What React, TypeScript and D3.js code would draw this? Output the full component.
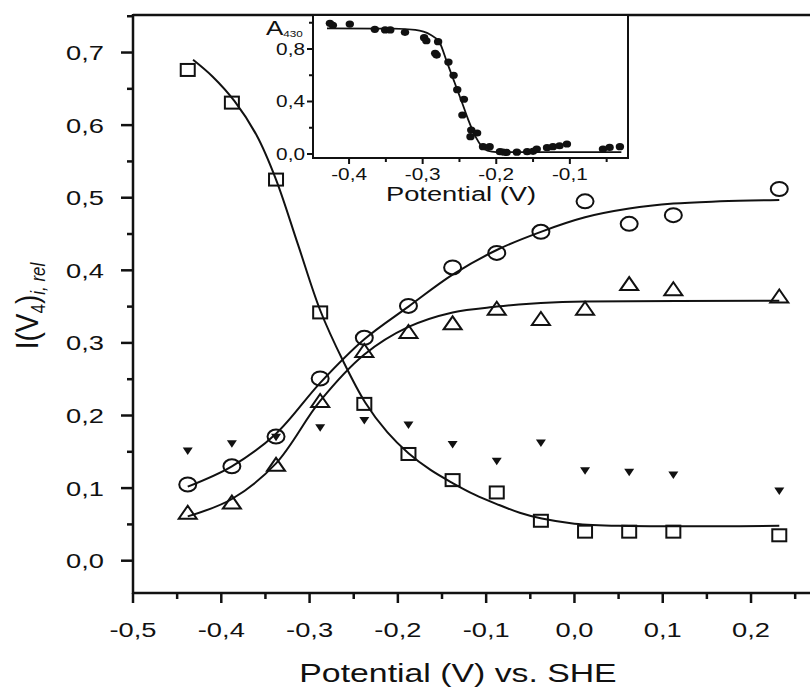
import React from "react";
import * as d3 from "d3";

// ---------- Main plot data ----------
const potentials = [-0.438, -0.388, -0.338, -0.288, -0.238, -0.188, -0.138, -0.088, -0.038, 0.012, 0.062, 0.112, 0.232];
const squareVals = [0.676, 0.631, 0.525, 0.342, 0.216, 0.147, 0.111, 0.094, 0.055, 0.040, 0.040, 0.040, 0.035];
const circleVals = [0.105, 0.130, 0.171, 0.251, 0.307, 0.351, 0.404, 0.424, 0.453, 0.495, 0.464, 0.476, 0.512];
const triUpVals = [0.066, 0.080, 0.132, 0.220, 0.289, 0.315, 0.327, 0.347, 0.333, 0.347, 0.381, 0.374, 0.364];
const triDownVals = [0.151, 0.161, 0.170, 0.183, 0.193, 0.187, 0.160, 0.137, 0.162, 0.124, 0.122, 0.118, 0.096];

// fitted curves
const squareFitX = [-0.432, -0.41, -0.385, -0.36, -0.338, -0.313, -0.288, -0.262, -0.237, -0.212, -0.188, -0.163, -0.138, -0.113, -0.088, -0.062, -0.037, 0.0, 0.05, 0.232];
const squareFitY = [0.69, 0.667, 0.633, 0.586, 0.525, 0.435, 0.345, 0.275, 0.218, 0.177, 0.148, 0.125, 0.107, 0.091, 0.078, 0.066, 0.058, 0.051, 0.048, 0.048];
const circleFitX = [-0.438, -0.388, -0.338, -0.288, -0.238, -0.188, -0.138, -0.088, -0.038, 0.012, 0.062, 0.112, 0.165, 0.232];
const circleFitY = [0.102, 0.130, 0.175, 0.245, 0.305, 0.350, 0.394, 0.428, 0.453, 0.473, 0.485, 0.492, 0.495, 0.497];
const triFitX = [-0.438, -0.388, -0.338, -0.288, -0.238, -0.188, -0.138, -0.088, -0.063, -0.038, 0.012, 0.232];
const triFitY = [0.061, 0.085, 0.134, 0.220, 0.284, 0.322, 0.342, 0.350, 0.353, 0.355, 0.357, 0.358];

const xTicksMain = [-0.5, -0.4, -0.3, -0.2, -0.1, 0.0, 0.1, 0.2];
const xMinorMain = [-0.45, -0.35, -0.25, -0.15, -0.05, 0.05, 0.15, 0.25];
const yTicksMain = [0.0, 0.1, 0.2, 0.3, 0.4, 0.5, 0.6, 0.7];
const yMinorMain = [0.05, 0.15, 0.25, 0.35, 0.45, 0.55, 0.65, 0.75];

// ---------- Inset data ----------
const insetX = [-0.426, -0.422, -0.399, -0.365, -0.351, -0.344, -0.324, -0.298, -0.295, -0.279, -0.283, -0.281, -0.265, -0.258, -0.253, -0.244, -0.246, -0.234, -0.235, -0.226, -0.218, -0.209, -0.195, -0.191, -0.186, -0.172, -0.158, -0.150, -0.145, -0.131, -0.123, -0.114, -0.104, -0.055, -0.046, -0.032];
const insetY = [0.996, 0.98, 0.99, 0.95, 0.945, 0.945, 0.927, 0.886, 0.863, 0.856, 0.767, 0.754, 0.70, 0.60, 0.49, 0.417, 0.297, 0.183, 0.132, 0.16, 0.056, 0.056, 0.018, 0.015, 0.012, 0.014, 0.018, 0.02, 0.038, 0.048, 0.056, 0.063, 0.076, 0.038, 0.05, 0.056];
const insetFitX = [-0.43, -0.34, -0.31, -0.29, -0.277, -0.267, -0.257, -0.247, -0.238, -0.228, -0.22, -0.212, -0.2, -0.03];
const insetFitY = [0.957, 0.955, 0.945, 0.91, 0.85, 0.70, 0.55, 0.40, 0.26, 0.13, 0.06, 0.025, 0.015, 0.015];
const xTicksInset = [-0.4, -0.3, -0.2, -0.1];
const xMinorInset = [-0.35, -0.25, -0.15, -0.05];
const yTicksInset = [0.0, 0.4, 0.8];
const yMinorInset = [0.2, 0.6, 1.0];

const FONT = "'Liberation Sans', Arial, Helvetica, sans-serif";
const SX = 1.3;
const fmt = (v: number) => v.toFixed(1).replace(".", ",");

function SText(props: { x: number; y: number; size: number; anchor?: string; children: React.ReactNode }) {
  const { x, y, size, anchor = "middle", children } = props;
  return (
    <text transform={`translate(${x},${y}) scale(${SX},1)`} textAnchor={anchor} fontSize={size} fontFamily={FONT} fill="#111">
      {children}
    </text>
  );
}

export default function App() {
  const W = 810, H = 690;
  const x = d3.scaleLinear().domain([-0.5, 0.28]).range([133, 133 + 0.78 * 882.9]);
  const y = d3.scaleLinear().domain([-0.0445, 0.7517]).range([593, 15]);

  const xi = d3.scaleLinear().domain([-0.449, -0.021]).range([313, 628]);
  const yi = d3.scaleLinear().domain([-0.0305, 1.059]).range([158, 15]);

  const line = d3.line<[number, number]>().x((d) => x(d[0])).y((d) => y(d[1])).curve(d3.curveCatmullRom.alpha(0.5));
  const lineI = d3.line<[number, number]>().x((d) => xi(d[0])).y((d) => yi(d[1])).curve(d3.curveMonotoneX);

  const zip = (a: number[], b: number[]) => a.map((v, i) => [v, b[i]] as [number, number]);

  const stroke = "#111";
  const [x0] = x.range();
  const [y0, y1] = y.range();

  return (
    <svg width={W} height={H} style={{ position: "absolute", left: 0, top: 0, background: "#fff" }}>
      <rect width={W} height={H} fill="#fff" />
      {/* fitted curves */}
      <g fill="none" stroke={stroke} strokeWidth={2}>
        <path d={line(zip(squareFitX, squareFitY)) || ""} />
        <path d={line(zip(circleFitX, circleFitY)) || ""} />
        <path d={line(zip(triFitX, triFitY)) || ""} />
      </g>
      {/* markers */}
      <g fill="none" stroke={stroke} strokeWidth={2}>
        {potentials.map((p, i) => (
          <rect key={"s" + i} x={x(p) - 7} y={y(squareVals[i]) - 6} width={14} height={12} />
        ))}
        {potentials.map((p, i) => (
          <ellipse key={"c" + i} cx={x(p)} cy={y(circleVals[i])} rx={8.5} ry={7} />
        ))}
        {potentials.map((p, i) => {
          const cx = x(p), cy = y(triUpVals[i]);
          return <path key={"t" + i} d={`M${cx - 9},${cy + 6}L${cx + 9},${cy + 6}L${cx},${cy - 7}Z`} strokeLinejoin="miter" />;
        })}
      </g>
      <g fill={stroke}>
        {potentials.map((p, i) => {
          const cx = x(p), cy = y(triDownVals[i]);
          return <path key={"d" + i} d={`M${cx - 5},${cy - 3.5}L${cx + 5},${cy - 3.5}L${cx},${cy + 4}Z`} />;
        })}
      </g>

      {/* axes frame */}
      <g stroke={stroke} strokeWidth={2.5} fill="none">
        <line x1={x0} y1={y0} x2={W + 5} y2={y0} />
        <line x1={x0} y1={y1} x2={W + 5} y2={y1} />
        <line x1={x0} y1={y0 + 1} x2={x0} y2={y1 - 1} />
      </g>
      <g stroke={stroke} strokeWidth={2.5}>
        {xTicksMain.map((t) => (
          <line key={"xt" + t} x1={x(t)} x2={x(t)} y1={y0} y2={y0 + 10} />
        ))}
        {xMinorMain.map((t) => (
          <line key={"xm" + t} x1={x(t)} x2={x(t)} y1={y0} y2={y0 + 6} />
        ))}
        {yTicksMain.map((t) => (
          <line key={"yt" + t} x1={x0} x2={x0 - 12} y1={y(t)} y2={y(t)} />
        ))}
        {yMinorMain.map((t) => (
          <line key={"ym" + t} x1={x0} x2={x0 - 6} y1={y(t)} y2={y(t)} />
        ))}
      </g>
      {xTicksMain.map((t) => (
        <SText key={"xl" + t} x={x(t)} y={637} size={21}>{fmt(t)}</SText>
      ))}
      {yTicksMain.map((t) => (
        <SText key={"yl" + t} x={104} y={y(t) + 7.5} size={21} anchor="end">{fmt(t)}</SText>
      ))}
      <SText x={458} y={682} size={26}>Potential (V) vs. SHE</SText>
      <text transform="translate(38,306) rotate(-90) scale(1,1.15)" textAnchor="middle" fontFamily={FONT} fontSize={28} fill="#111">
        I(V<tspan fontSize={17} dy={6}>4</tspan><tspan dy={-6}>)</tspan>
        <tspan fontSize={17} dy={6} fontStyle="italic">i, rel</tspan>
      </text>

      {/* inset */}
      <rect x={313} y={15} width={315} height={143} fill="#fff" stroke={stroke} strokeWidth={2} />
      <path d={lineI(zip(insetFitX, insetFitY)) || ""} fill="none" stroke={stroke} strokeWidth={1.8} />
      <g fill={stroke}>
        {insetX.map((v, i) => (
          <ellipse key={"ip" + i} cx={xi(v)} cy={yi(insetY[i])} rx={4.2} ry={3.6} />
        ))}
      </g>
      <g stroke={stroke} strokeWidth={2}>
        {xTicksInset.map((t) => (
          <line key={"ixt" + t} x1={xi(t)} x2={xi(t)} y1={158} y2={164} />
        ))}
        {xMinorInset.map((t) => (
          <line key={"ixm" + t} x1={xi(t)} x2={xi(t)} y1={158} y2={162} />
        ))}
        {yTicksInset.map((t) => (
          <line key={"iyt" + t} x1={313} x2={307} y1={yi(t)} y2={yi(t)} />
        ))}
        {yMinorInset.map((t) => (
          <line key={"iym" + t} x1={313} x2={309} y1={yi(t)} y2={yi(t)} />
        ))}
      </g>
      {xTicksInset.map((t) => (
        <SText key={"ixl" + t} x={xi(t)} y={180} size={16}>{fmt(t)}</SText>
      ))}
      {yTicksInset.map((t) => (
        <SText key={"iyl" + t} x={305} y={yi(t) + 6} size={16} anchor="end">{fmt(t)}</SText>
      ))}
      <SText x={461} y={201} size={21}>Potential (V)</SText>
      <text transform={`translate(266,35) scale(${SX},1)`} fontFamily={FONT} fontSize={20} fill="#111">
        A<tspan fontSize={9} dy={2}>430</tspan>
      </text>
    </svg>
  );
}
